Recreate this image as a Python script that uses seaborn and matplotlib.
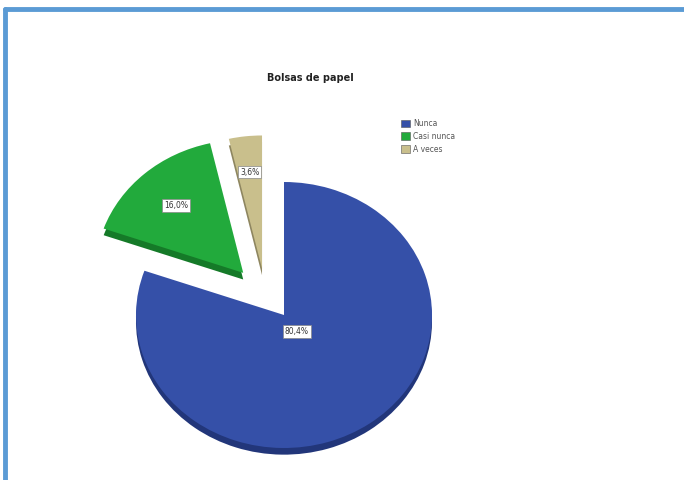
import numpy as np
import matplotlib
matplotlib.use("Agg")
import matplotlib.pyplot as plt
import matplotlib.patches as mpatches
import seaborn as sns

# Survey answers for "Bolsas de papel"
categories = ["Nunca", "Casi nunca", "A veces"]
percentages = [80.4, 16.0, 3.6]
pct_labels = ["80,4%", "16,0%", "3,6%"]

sns.set_theme(style="white")
plt.rcParams["font.family"] = ["DejaVu Sans"]

face_colors = ["#3550A8", "#22AA3C", "#C9BF8C"]
side_colors = ["#22367A", "#157A28", "#8E8660"]
# pulled-out slices: distance (in radii) and direction (degrees, ccw from +x)
pull_dist = [0.0, 0.42, 0.38]
pull_dir = [0.0, 131.0, 113.0]
depth = 0.05

W, H = 684, 480
fig = plt.figure(figsize=(W / 100, H / 100), dpi=100)
fig.patch.set_facecolor("white")

# axes placed so that one radius is ~148 px wide and ~133 px tall (tilted look)
cx, cy = 284, 165
rx, ry = 148, 133
x0, x1 = -1.8, 1.8
y0, y1 = -1.2, 2.2
ax = fig.add_axes([(cx + x0 * rx) / W, (cy + y0 * ry) / H,
                   (x1 - x0) * rx / W, (y1 - y0) * ry / H])


def offsets():
    for d, a in zip(pull_dist, pull_dir):
        t = np.deg2rad(a)
        yield d * np.cos(t), d * np.sin(t)


# depth layer drawn slightly lower, then the top faces
sides, _ = ax.pie(percentages, colors=side_colors, startangle=90,
                  counterclock=False, radius=1,
                  wedgeprops=dict(linewidth=0))
wedges, _ = ax.pie(percentages, colors=face_colors, startangle=90,
                   counterclock=False, radius=1,
                   wedgeprops=dict(linewidth=0))
for s, w, (ox, oy) in zip(sides, wedges, offsets()):
    s.set_center((ox, oy - depth))
    w.set_center((ox, oy))

ax.set_aspect("auto")
ax.set_xlim(x0, x1)
ax.set_ylim(y0, y1)
ax.axis("off")

# value labels inside each wedge, in white boxes
label_dist = [0.15, 0.68, 0.73]
for w, txt, d in zip(wedges, pct_labels, label_dist):
    mid = np.deg2rad((w.theta1 + w.theta2) / 2)
    px = w.center[0] + d * np.cos(mid)
    py = w.center[1] + d * np.sin(mid)
    ax.text(px, py, txt, ha="center", va="center", fontsize=5.5,
            color="#333333",
            bbox=dict(boxstyle="square,pad=0.25", fc="white", ec="#888888",
                      lw=0.5))

fig.text(310 / W, 1 - 78 / H, "Bolsas de papel", ha="center", va="center",
         fontsize=7, fontweight="bold", color="#222222")

handles = [mpatches.Patch(facecolor=c, edgecolor="#555555", linewidth=0.4)
           for c in face_colors]
fig.legend(handles, categories, loc="upper left",
           bbox_to_anchor=(398 / W, 1 - 116 / H), frameon=False,
           fontsize=5.5, handlelength=1.2, handleheight=1.2,
           handletextpad=0.4, labelspacing=0.5, borderaxespad=0,
           labelcolor="#555555")

# frame lines along the top and left edges
fig.add_artist(plt.Line2D([5 / W, 1], [1 - 9 / H, 1 - 9 / H],
                          color="#5B9BD5", lw=3.5, transform=fig.transFigure))
fig.add_artist(plt.Line2D([5 / W, 5 / W], [0, 1 - 9 / H],
                          color="#5B9BD5", lw=3.5, transform=fig.transFigure))

fig.savefig("out.png", dpi=100, facecolor="white")
